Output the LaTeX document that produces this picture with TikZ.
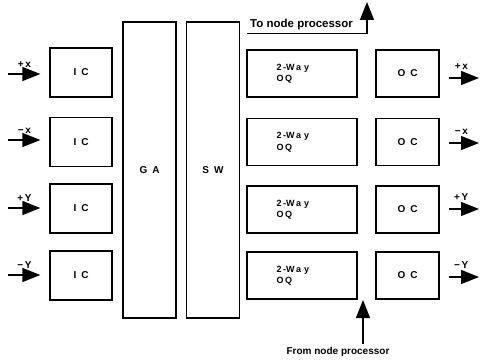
\documentclass[tikz,border=0pt]{standalone}
\usepackage{fontspec}
\setmainfont{Liberation Sans}
\usetikzlibrary{arrows.meta}

\begin{document}
\begin{tikzpicture}[
    x=1pt, y=-1pt,
    box/.style={draw, line width=1.4pt, inner sep=0pt, font=\fontsize{10}{11}\selectfont\bfseries},
    icbox/.style={box, minimum width=62pt, minimum height=49pt},
    ocbox/.style={box, minimum width=63pt, minimum height=47pt},
    oqbox/.style={box, minimum width=110pt, minimum height=47pt},
    tallbox/.style={box, minimum width=53pt, minimum height=296pt},
    oqtext/.style={align=left, xshift=-9pt, inner sep=0pt, font=\fontsize{9}{11.5}\selectfont\bfseries},
    dirlabel/.style={inner sep=1pt, font=\fontsize{10}{11}\selectfont\bfseries},
    procname/.style={inner sep=3pt},
    link/.style={line width=1.4pt},
    >={Triangle[length=18pt, width=14pt]}
    ]

    \useasboundingbox (0,0) rectangle (480,361);

    % input channels
    \node[icbox] (ic1) at (81,72.5) {I\enspace C};
    \node[icbox] (ic2) at (81,142) {I\enspace C};
    \node[icbox] (ic3) at (81,208.5) {I\enspace C};
    \node[icbox] (ic4) at (81,275.5) {I\enspace C};

    \node[tallbox] (ga) at (149.5,170) {G\enspace A};
    \node[tallbox] (sw) at (213,170) {S\enspace W};

    % output queues
    \node[oqbox, label={[oqtext]center:{2\,-W\,a\,\,y\\O\,Q}}] (oq1) at (302,73.5) {};
    \node[oqbox, label={[oqtext]center:{2\,-W\,a\,\,y\\O\,Q}}] (oq2) at (302,142) {};
    \node[oqbox, label={[oqtext]center:{2\,-W\,a\,\,y\\O\,Q}}] (oq3) at (302,209.5) {};
    \node[oqbox, label={[oqtext]center:{2\,-W\,a\,\,y\\O\,Q}}] (oq4) at (302,275.5) {};

    % output channels
    \node[ocbox] (oc1) at (407.5,73.5) {O\enspace C};
    \node[ocbox] (oc2) at (407.5,142) {O\enspace C};
    \node[ocbox] (oc3) at (407.5,209.5) {O\enspace C};
    \node[ocbox] (oc4) at (407.5,275.5) {O\enspace C};

    \coordinate (in1) at (8,74);
    \coordinate (in2) at (8,140);
    \coordinate (in3) at (8,208);
    \coordinate (in4) at (8,275);
    \coordinate (out1) at (479,78);
    \coordinate (out2) at (479,143);
    \coordinate (out3) at (479,209);
    \coordinate (out4) at (479,277);

    \draw[link, ->, shorten >=9pt] (in1) -- node[dirlabel, above=5pt, pos=0.4] {+\,x} (in1 -| ic1.west);
    \draw[link, ->, shorten >=9pt] (in2) -- node[dirlabel, above=5pt, pos=0.4] {−\,x} (in2 -| ic2.west);
    \draw[link, ->, shorten >=9pt] (in3) -- node[dirlabel, above=5pt, pos=0.4] {+\,Y} (in3 -| ic3.west);
    \draw[link, ->, shorten >=9pt] (in4) -- node[dirlabel, above=5pt, pos=0.4] {−\,Y} (in4 -| ic4.west);

    \draw[link, ->, shorten <=9pt] (out1 -| oc1.east) -- node[dirlabel, above=7pt, pos=0.55] {+\,x} (out1);
    \draw[link, ->, shorten <=9pt] (out2 -| oc2.east) -- node[dirlabel, above=7pt, pos=0.55] {−\,x} (out2);
    \draw[link, ->, shorten <=9pt] (out3 -| oc3.east) -- node[dirlabel, above=7pt, pos=0.55] {+\,Y} (out3);
    \draw[link, ->, shorten <=9pt] (out4 -| oc4.east) -- node[dirlabel, above=7pt, pos=0.55] {−\,Y} (out4);

    % node processor
    \node[procname, anchor=base west, font=\fontsize{11.5}{13}\selectfont\bfseries] (tonp) at (247,28) {To node processor};
    \coordinate (toptip) at (367,2);
    \draw[link, ->] (tonp.south west) -| (toptip);

    \node[procname, font=\fontsize{10}{12}\selectfont\bfseries] (fromnp) at (338,352) {From node processor};
    \coordinate (bottip) at (363,300);
    \draw[link, ->] (fromnp.north -| bottip) -- (bottip);

\end{tikzpicture}
\end{document}
